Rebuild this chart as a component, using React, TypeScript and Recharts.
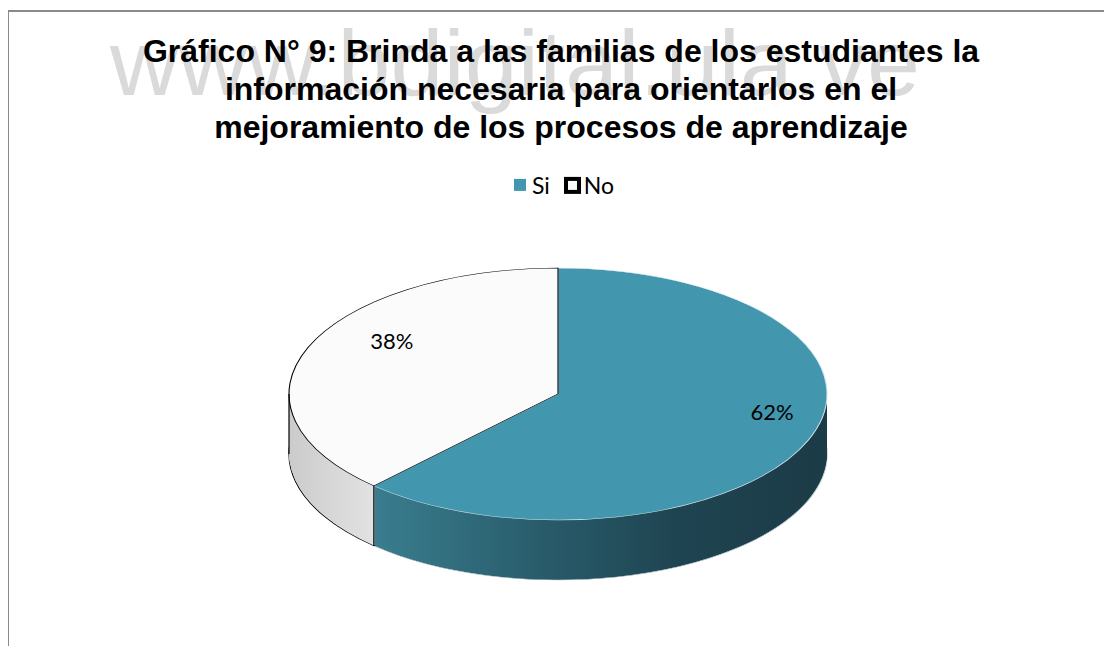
import React from 'react';
import { PieChart, Pie, Cell, Legend } from 'recharts';

// ---- data ----
const categories = ['Si', 'No'];
const values = [62, 38];
const titleLines = [
  'Gráfico N° 9: Brinda a las familias de los estudiantes la',
  'información necesaria para orientarlos en el',
  'mejoramiento de los procesos de aprendizaje',
];
const watermarkText = 'www.bdigital.ula.ve';

// ---- styles ----
const topColors = ['#4297AE', '#FBFBFB'];
const topStrokes = ['#D3E7EE', '#000000'];
const sideFills = ['url(#sideSi)', 'url(#sideNo)'];
const bottomStrokes = ['#B5C2C7', '#000000'];
const sideEdges = ['none', '#000000'];
const legendBorders = ['none', '4px solid #000'];
const legendSizes = [12, 17];

const data = categories.map((name, i) => ({ name, value: values[i] }));

const W = 1104;
const H = 646;
const CX = 558;
const CY = 394;
const RX = 269;
const RY = 126;
const K = RY / RX;
const DEPTH = 60;
const CHART_H = Math.ceil(H / K);
const sideOffsets = Array.from({ length: DEPTH }, (_, i) => DEPTH - i);
const RAD = Math.PI / 180;
const LABEL_R = 0.76;
const LABEL_DX = 24;
const LABEL_DY = -18;

const between = (a: number, s: number, e: number) => a <= Math.max(s, e) && a >= Math.min(s, e);

const renderLabel = (props: any) => {
  const { cx, cy, midAngle, outerRadius, percent, startAngle, endAngle, index } = props;
  const r = outerRadius * LABEL_R;
  const lx = cx + r * Math.cos(-midAngle * RAD) + LABEL_DX;
  const ly = (cy + r * Math.sin(-midAngle * RAD)) * K + LABEL_DY;
  const edge = sideEdges[index];
  const angles: number[] = [];
  if (edge && edge !== 'none') {
    if (Math.sin(startAngle * RAD) < -0.01) angles.push(startAngle);
    if (Math.sin(endAngle * RAD) < -0.01) angles.push(endAngle);
    [0, 180, -180, -360].forEach((a) => {
      if (between(a, startAngle, endAngle)) angles.push(a);
    });
  }
  return (
    <g key={`lab-${index}`}>
      {angles.map((a, j) => {
        const ex = cx + outerRadius * Math.cos(a * RAD);
        const ey = cy - outerRadius * Math.sin(a * RAD);
        return (
          <line
            key={j}
            x1={ex}
            y1={ey}
            x2={ex}
            y2={ey + DEPTH / K}
            stroke={edge}
            strokeWidth={1.2}
            vectorEffect="non-scaling-stroke"
          />
        );
      })}
      <text
        x={lx}
        y={ly}
        transform={`scale(1 ${1 / K})`}
        textAnchor="middle"
        dominantBaseline="central"
        fontFamily="Lato, 'Open Sans', sans-serif"
        fontSize={22}
        fill="#000"
      >
        {`${Math.round(percent * 100)}%`}
      </text>
    </g>
  );
};

const renderLegend = (props: any) => {
  const payload = props.payload || [];
  const shown = categories.filter((c) => payload.some((p: any) => p.value === c));
  return (
    <div
      style={{
        display: 'flex',
        justifyContent: 'center',
        alignItems: 'center',
        transform: `scaleY(${1 / K})`,
        transformOrigin: 'top',
        fontFamily: "Lato, 'Open Sans', sans-serif",
        fontSize: 23,
        color: '#000',
        lineHeight: '26px',
      }}
    >
      {shown.map((name, j) => {
        const idx = categories.indexOf(name);
        return (
          <div
            key={name}
            style={{ display: 'flex', alignItems: 'center', marginRight: j < shown.length - 1 ? 14 : 0 }}
          >
            <span
              style={{
                display: 'inline-block',
                boxSizing: 'border-box',
                width: legendSizes[idx],
                height: legendSizes[idx],
                background: topColors[idx],
                border: legendBorders[idx],
                marginRight: idx === 0 ? 6 : 3,
              }}
            />
            <span>{name}</span>
          </div>
        );
      })}
    </div>
  );
};

export default function App() {
  return (
    <div style={{ position: 'relative', width: W - 8, height: H - 8 }}>
      <style>{`html{overflow:hidden} body{min-width:${W - 8}px} .chart3d path{vector-effect:non-scaling-stroke}`}</style>
      <div style={{ position: 'absolute', left: -8, top: -8, width: W, height: H, overflow: 'hidden', background: '#fff' }}>
        <div
          style={{
            position: 'absolute',
            left: 7,
            top: 10,
            width: 2000,
            height: 2000,
            borderLeft: '2px solid #8a8a8a',
            borderTop: '2px solid #8a8a8a',
          }}
        />
        <svg width={W} height={H} style={{ position: 'absolute', left: 0, top: 0 }}>
          <defs>
            <linearGradient id="sideSi" gradientUnits="userSpaceOnUse" x1={350} y1={0} x2={830} y2={0}>
              <stop offset="0" stopColor="#3C8294" />
              <stop offset="0.2" stopColor="#326F7F" />
              <stop offset="0.42" stopColor="#285A69" />
              <stop offset="0.68" stopColor="#1F4451" />
              <stop offset="1" stopColor="#1B3B46" />
            </linearGradient>
            <linearGradient id="sideNo" gradientUnits="userSpaceOnUse" x1={289} y1={0} x2={380} y2={0}>
              <stop offset="0" stopColor="#CBCBCB" />
              <stop offset="0.5" stopColor="#D8D8D8" />
              <stop offset="1" stopColor="#E3E3E3" />
            </linearGradient>
          </defs>
          <text
            x={110}
            y={95}
            fontFamily="'Liberation Sans', Arial, sans-serif"
            fontSize={92}
            fill="#DADADA"
            textLength={810}
            lengthAdjust="spacingAndGlyphs"
          >
            {watermarkText}
          </text>
        </svg>
        <div
          className="chart3d"
          style={{ position: 'absolute', left: 0, top: 0, transform: `scaleY(${K})`, transformOrigin: '0 0' }}
        >
          <PieChart width={W} height={CHART_H} margin={{ top: 0, right: 0, bottom: 0, left: 0 }}>
            {sideOffsets.map((t, li) => (
              <Pie
                key={`side-${t}`}
                data={data}
                dataKey="value"
                nameKey="name"
                cx={CX}
                cy={(CY + t) / K}
                outerRadius={RX}
                startAngle={90}
                endAngle={-270}
                isAnimationActive={false}
                legendType="none"
                label={false}
                labelLine={false}
                stroke="none"
              >
                {data.map((d, i) => (
                  <Cell
                    key={d.name}
                    fill={sideFills[i]}
                    stroke={li === 0 ? bottomStrokes[i] : 'none'}
                    strokeWidth={li === 0 ? 1.2 : 0}
                  />
                ))}
              </Pie>
            ))}
            <Pie
              data={data}
              dataKey="value"
              nameKey="name"
              cx={CX}
              cy={CY / K}
              outerRadius={RX}
              startAngle={90}
              endAngle={-270}
              isAnimationActive={false}
              label={renderLabel}
              labelLine={false}
              strokeWidth={1.1}
            >
              {data.map((d, i) => (
                <Cell key={d.name} fill={topColors[i]} stroke={topStrokes[i]} />
              ))}
            </Pie>
            <Legend
              verticalAlign="bottom"
              content={renderLegend}
              wrapperStyle={{ top: 172 / K, bottom: 'auto', left: 12, width: W }}
            />
          </PieChart>
        </div>
        <svg width={W} height={H} style={{ position: 'absolute', left: 0, top: 0, pointerEvents: 'none' }}>
          {titleLines.map((line, i) => (
            <text
              key={i}
              x={561}
              y={62 + i * 38}
              textAnchor="middle"
              fontFamily="'Liberation Sans', Arial, sans-serif"
              fontWeight="bold"
              fontSize={32}
              fill="#000"
            >
              {line}
            </text>
          ))}
        </svg>
      </div>
    </div>
  );
}
